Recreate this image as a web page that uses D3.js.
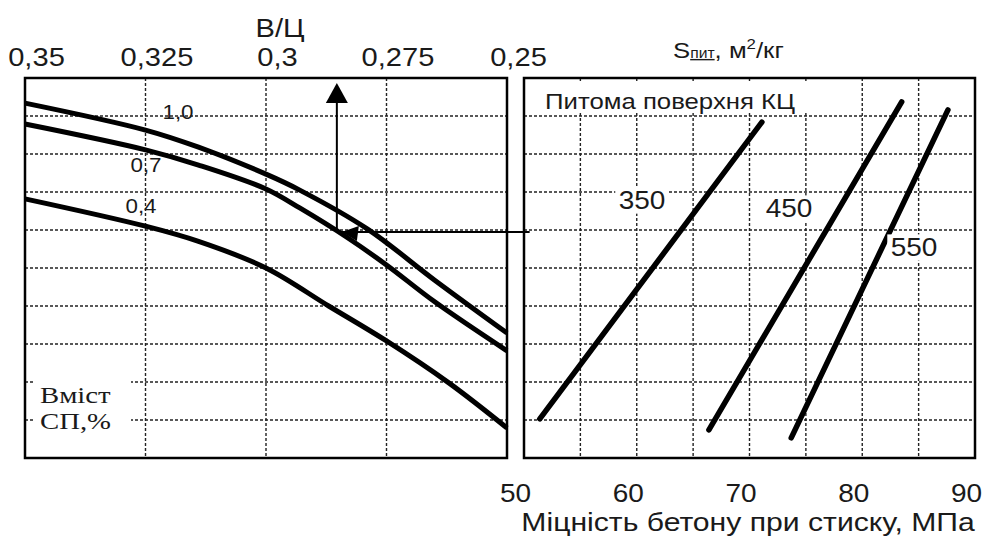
<!DOCTYPE html>
<html>
<head>
<meta charset="utf-8">
<script src="https://cdn.jsdelivr.net/npm/d3@7/dist/d3.min.js"></script>
<style>
  body { margin: 0; background: #fff; }
  svg { display: block; }
</style>
</head>
<body>
<div id="chart"></div>
<script>
// В/Ц axis (top, left panel)
var wcTicks = [0.35, 0.325, 0.3, 0.275, 0.25];
// strength axis (bottom, right panel)
var mpaTicks = [50, 60, 70, 80, 90];
var mpaGrid = [55, 60, 65, 70, 75, 80, 85];
var rowGrid = [1, 2, 3, 4, 5, 6, 7, 8, 9];

// left panel: superplasticizer content curves (x = В/Ц, y = grid level)
var spNames = ["1,0", "0,7", "0,4"];
var wc10 = [0.35, 0.325, 0.314, 0.30, 0.293, 0.279, 0.265, 0.25];
var lvl10 = [9.34, 8.63, 8.18, 7.47, 7.05, 6.03, 4.68, 3.29];
var wc07 = [0.35, 0.325, 0.314, 0.30, 0.293, 0.283, 0.275, 0.265, 0.25];
var lvl07 = [8.79, 8.11, 7.71, 7.08, 6.58, 5.79, 5.08, 4.11, 2.82];
var wc04 = [0.35, 0.325, 0.314, 0.30, 0.287, 0.275, 0.262, 0.25];
var lvl04 = [6.82, 6.1, 5.7, 5.0, 4.0, 3.08, 1.97, 0.79];

// right panel: specific surface lines (x = MPa, y = grid level)
var surfaces = ["350", "450", "550"];
var mpaStart = [51.4, 66.4, 73.7];
var mpaEnd = [71.1, 83.5, 87.6];
var lvlStart = [1.03, 0.74, 0.53];
var lvlEnd = [8.84, 9.37, 9.16];

// example reading (arrow)
var arrowWC = 0.2853, arrowLvl = 5.95, arrowTop = 9.87;

var W = 986, H = 541, SX = 1.12;
var ink = "#1a1a1a", font = "'Liberation Sans', Arial, sans-serif";
var serif = "'Liberation Serif', 'Times New Roman', serif";

var svg = d3.select("#chart").append("svg").attr("width", W).attr("height", H);

var xWC = d3.scaleLinear().domain([0.35, 0.25]).range([25, 507]);
var xMPa = d3.scaleLinear().domain([50, 90]).range([524, 975]);
var y = d3.scaleLinear().domain([0, 10]).range([458, 78]);

function txt(g, x, yy, s, size, anchor, fam, sx) {
  return g.append("text")
    .attr("transform", "translate(" + x + "," + yy + ") scale(" + (sx || SX) + ",1)")
    .attr("text-anchor", anchor || "middle")
    .attr("font-family", fam || font)
    .attr("font-size", size)
    .attr("fill", ink)
    .text(s);
}

function boxed(g, x, yy, s, size) {
  var t = txt(g, x, yy, s, size);
  var b = t.node().getBBox();
  g.insert("rect", function() { return t.node(); })
    .attr("transform", t.attr("transform"))
    .attr("x", b.x - 3).attr("y", b.y + 1).attr("width", b.width + 6).attr("height", b.height - 2)
    .attr("fill", "#fff");
  return t;
}

var grid = svg.append("g").attr("stroke", "#222").attr("stroke-width", 1.4).attr("stroke-dasharray", "3,2");
grid.selectAll(".vl").data(wcTicks.slice(1, -1)).join("line")
  .attr("x1", d => xWC(d)).attr("x2", d => xWC(d)).attr("y1", y(10)).attr("y2", y(0));
grid.selectAll(".hl").data(rowGrid).join("line").attr("class", "hl")
  .attr("x1", xWC(0.35)).attr("x2", xWC(0.25)).attr("y1", d => y(d)).attr("y2", d => y(d));
grid.selectAll(".vr").data(mpaGrid).join("line").attr("class", "vr")
  .attr("x1", d => xMPa(d)).attr("x2", d => xMPa(d)).attr("y1", y(10)).attr("y2", y(0));
grid.selectAll(".hr").data(rowGrid).join("line").attr("class", "hr")
  .attr("x1", xMPa(50)).attr("x2", xMPa(90)).attr("y1", d => y(d)).attr("y2", d => y(d));

// white boxes behind in-panel captions
svg.append("rect").attr("x", 33).attr("y", 371).attr("width", 98).attr("height", 72).attr("fill", "#fff");
svg.append("rect").attr("x", 527).attr("y", 83).attr("width", 284).attr("height", 30).attr("fill", "#fff");

// left panel curves
var spSeries = [d3.zip(wc10, lvl10), d3.zip(wc07, lvl07), d3.zip(wc04, lvl04)];
var line = d3.line().x(d => xWC(d[0])).y(d => y(d[1])).curve(d3.curveCatmullRom.alpha(0.5));
svg.append("g").selectAll("path").data(spSeries).join("path")
  .attr("d", line).attr("fill", "none").attr("stroke", "#000").attr("stroke-width", 5);

// right panel lines
var sLines = surfaces.map((s, i) => [[mpaStart[i], lvlStart[i]], [mpaEnd[i], lvlEnd[i]]]);
svg.append("g").selectAll("line").data(sLines).join("line")
  .attr("x1", d => xMPa(d[0][0])).attr("y1", d => y(d[0][1]))
  .attr("x2", d => xMPa(d[1][0])).attr("y2", d => y(d[1][1]))
  .attr("stroke", "#000").attr("stroke-width", 5.5).attr("stroke-linecap", "round");

// arrow reading
var ax = xWC(arrowWC), ay = y(arrowLvl), at = y(arrowTop);
var arr = svg.append("g").attr("stroke", "#000").attr("stroke-width", 2);
arr.append("line").attr("x1", ax).attr("x2", ax).attr("y1", ay).attr("y2", at + 18);
arr.append("line").attr("x1", ax).attr("x2", xMPa(50.5)).attr("y1", ay).attr("y2", ay);
arr.append("path").attr("stroke", "none").attr("fill", "#000")
  .attr("d", "M" + ax + "," + at + "L" + (ax - 11) + "," + (at + 20) + "L" + (ax + 11) + "," + (at + 20) + "Z");
arr.append("path").attr("stroke", "none").attr("fill", "#000")
  .attr("d", "M" + (ax + 5) + "," + ay + "L" + (ax + 22) + "," + (ay - 6) + "L" + (ax + 20) + "," + (ay + 9) + "Z");

// frames
svg.append("rect").attr("x", xWC(0.35)).attr("y", y(10)).attr("width", xWC(0.25) - xWC(0.35)).attr("height", y(0) - y(10))
  .attr("fill", "none").attr("stroke", "#000").attr("stroke-width", 2.5);
svg.append("rect").attr("x", xMPa(50)).attr("y", y(10)).attr("width", xMPa(90) - xMPa(50)).attr("height", y(0) - y(10))
  .attr("fill", "none").attr("stroke", "#000").attr("stroke-width", 2.5);

// axes
var topAxis = svg.append("g").attr("transform", "translate(0,66)")
  .call(d3.axisTop(xWC).tickValues(wcTicks).tickSize(0).tickPadding(0).tickFormat(d => String(d).replace(".", ",")));
var botAxis = svg.append("g").attr("transform", "translate(0,484)")
  .call(d3.axisBottom(xMPa).tickValues(mpaTicks).tickSize(0).tickPadding(0));
[[topAxis, 11, 26], [botAxis, -9, 25]].forEach(function(p) {
  p[0].select(".domain").remove();
  p[0].attr("font-family", font).attr("font-size", p[2]);
  p[0].selectAll("text").attr("fill", ink).attr("transform", "translate(" + p[1] + ",0) scale(" + SX + ",1)");
});

// titles
txt(svg, 280, 37, "В/Ц", 26);
txt(svg, 748, 531, "Міцність бетону при стиску, МПа", 26, "middle", font, 1.16);
var st = svg.append("text").attr("transform", "translate(673,58) scale(" + SX + ",1)")
  .attr("font-family", font).attr("fill", ink).attr("font-size", 23);
st.append("tspan").text("S");
st.append("tspan").attr("font-size", 14).attr("text-decoration", "underline").text("пит");
st.append("tspan").text(", м");
st.append("tspan").attr("font-size", 15).attr("dy", -9).text("2");
st.append("tspan").attr("dy", 9).text("/кг");

txt(svg, 545, 109, "Питома поверхня КЦ", 23, "start");

var lt = svg.append("g");
txt(lt, 40, 403, "Вміст", 23, "start", serif, 1.25);
txt(lt, 40, 429, "СП,%", 23, "start", serif, 1.25);

// curve labels
var spLabelPos = [[178, 119], [146, 172], [141, 213]];
spNames.forEach((s, i) => txt(svg, spLabelPos[i][0], spLabelPos[i][1], s, 20));

var sLabelPos = [[642, 209], [789, 217], [914, 256]];
surfaces.forEach((s, i) => boxed(svg, sLabelPos[i][0], sLabelPos[i][1], s, 25));
</script>
</body>
</html>
